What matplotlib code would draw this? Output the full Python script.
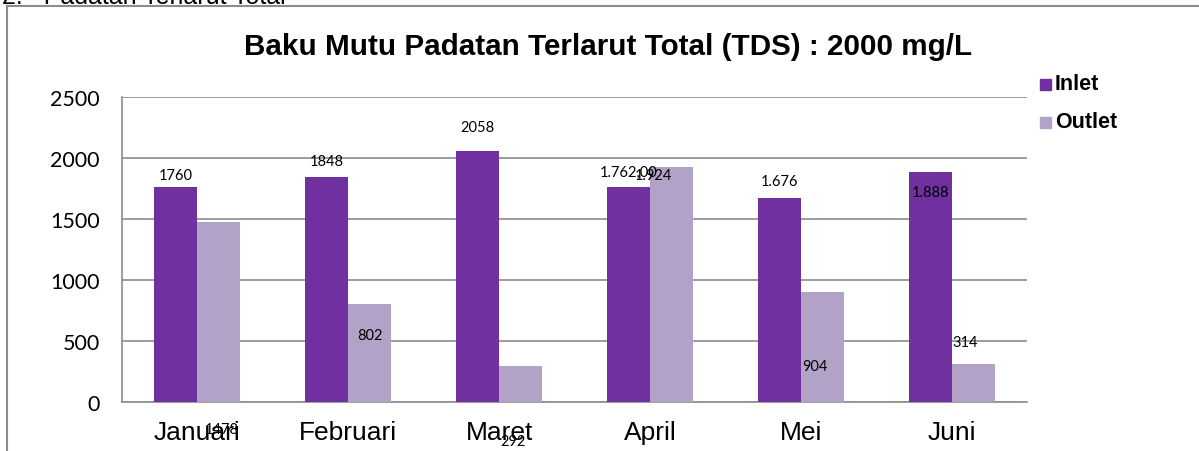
import matplotlib
matplotlib.use('Agg')
import matplotlib.pyplot as plt
import numpy as np
from matplotlib.patches import Rectangle
from matplotlib.lines import Line2D

months = ['Januari', 'Februari', 'Maret', 'April', 'Mei', 'Juni']
inlet = [1760, 1848, 2058, 1762, 1676, 1888]
outlet = [1478, 802, 292, 1924, 904, 314]
inlet_text = ['1760', '1848', '2058', '1.762,00', '1.676', '1.888']
outlet_text = ['1478', '802', '292', '1.924', '904', '314']

# where the data labels sit (data units), copied from the odd layout of the original
inlet_label_y = [1860, 1975, 2250, 1890, 1810, 1720]
outlet_label_y = [-220, 550, -320, 1860, 295, 490]
outlet_label_dx = [0.02, 0.0, -0.05, -0.12, -0.05, -0.05]

purple = '#7030A0'
lilac = '#B3A2C7'
grid_c = '#8C8C8C'

fig = plt.figure(figsize=(11.99, 4.52), dpi=100)
ax = fig.add_axes([122 / 1199, 1 - 403 / 452, 905 / 1199, 305 / 452])

x = np.arange(len(months))
w = 0.285
ax.bar(x - w / 2, inlet, w, color=purple, zorder=3, label='Inlet')
ax.bar(x + w / 2, outlet, w, color=lilac, zorder=3, label='Outlet')

ax.set_xlim(-0.5, len(months) - 0.5)
ax.set_ylim(0, 2500)
ax.set_yticks(np.arange(0, 2501, 500))
ax.yaxis.grid(True, color=grid_c, lw=1.2)
ax.set_axisbelow(True)
for s in ['top', 'right']:
    ax.spines[s].set_visible(False)
for s in ['left', 'bottom']:
    ax.spines[s].set_color(grid_c)
    ax.spines[s].set_linewidth(1.2)
ax.tick_params(axis='both', length=0)
ax.tick_params(axis='y', labelsize=15.5, pad=16)
ax.set_xticks(x)
ax.set_xticklabels(months, fontsize=19, fontfamily='Liberation Sans')
ax.tick_params(axis='x', pad=13)
for t in ax.get_yticklabels():
    t.set_fontfamily('Lato')

for i in range(len(months)):
    ax.text(x[i] - w / 2, inlet_label_y[i], inlet_text[i], ha='center', va='center',
            fontsize=10.5, fontfamily='Lato', clip_on=False)
    ax.text(x[i] + w / 2 + outlet_label_dx[i], outlet_label_y[i], outlet_text[i], ha='center',
            va='center', fontsize=10.5, fontfamily='Lato', clip_on=False)

fig.text(608 / 1199, 1 - 47 / 452, 'Baku Mutu Padatan Terlarut Total (TDS) : 2000 mg/L',
         ha='center', va='center', fontsize=21.3, fontweight='bold', fontfamily='Liberation Sans')

# legend drawn by hand to match the square markers
for j, (lab, col) in enumerate([('Inlet', purple), ('Outlet', lilac)]):
    yy = 1 - (85 + j * 38) / 452
    fig.patches.append(Rectangle((1040 / 1199, yy - 5.5 / 452), 11 / 1199, 11 / 452,
                                 transform=fig.transFigure, color=col))
    fig.text(1055 / 1199, yy, lab, ha='left', va='center', fontsize=15.5,
             fontweight='bold', fontfamily='Liberation Sans')

# document frame and cut-off heading above it
fig.lines.append(Line2D([7 / 1199, 7 / 1199], [0, 1 - 7 / 452], transform=fig.transFigure,
                        color='#8C8C8C', lw=1.5))
fig.lines.append(Line2D([7 / 1199, 1], [1 - 7 / 452, 1 - 7 / 452], transform=fig.transFigure,
                        color='#8C8C8C', lw=1.5))
fig.text(2 / 1199, 1 - 4 / 452, '2.   Padatan Terlarut Total', ha='left', va='baseline',
         fontsize=18, fontfamily='Liberation Sans')

fig.savefig('out.png', dpi=100)
